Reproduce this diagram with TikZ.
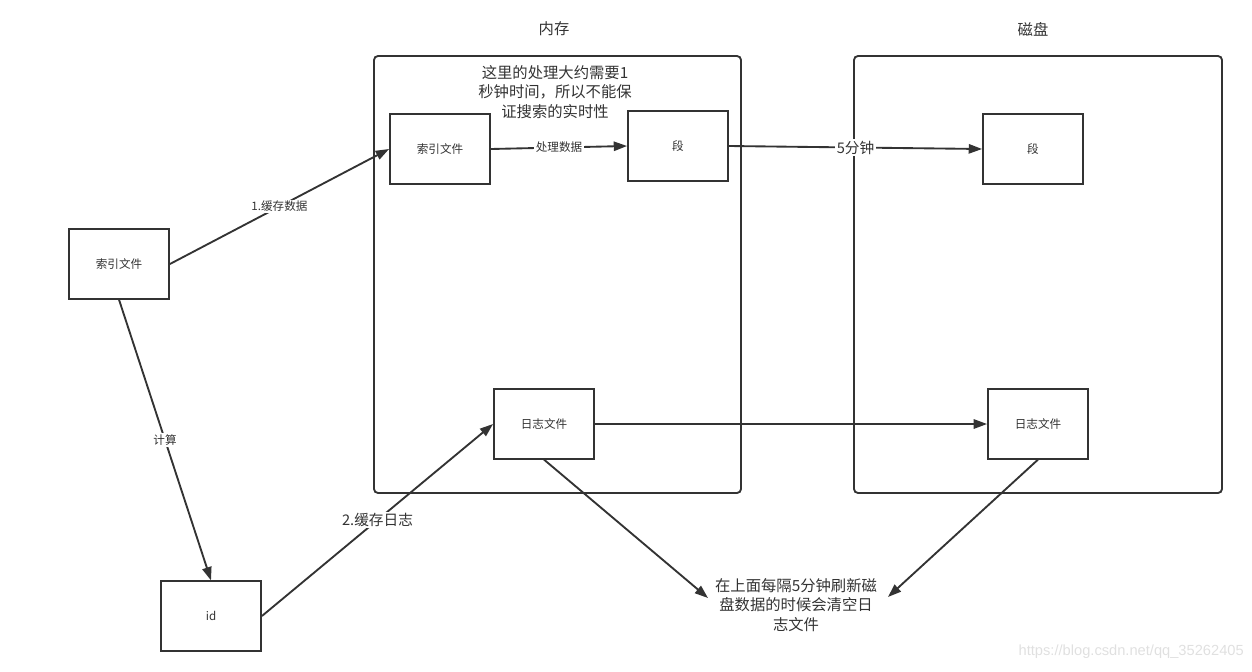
\documentclass[tikz,border=0pt]{standalone}
\usepackage{fontspec}
\setmainfont{Noto Sans CJK SC}
\setsansfont{Liberation Sans}
\usetikzlibrary{arrows.meta}
\definecolor{ink}{HTML}{333333}
\begin{document}
\begin{tikzpicture}[x=0.75pt,y=-0.75pt,
  box/.style={draw=ink,line width=1.4pt,fill=white,minimum width=75pt,minimum height=52pt,inner sep=0pt,font=\fontsize{8.7}{10}\selectfont,text=ink},
  frame/.style={draw=ink,line width=1.4pt,rounded corners=3pt},
  conn/.style={draw=ink,line width=1.4pt,-{Triangle[length=10pt,width=7pt]}},
  lbl/.style={fill=white,inner sep=1pt,text=ink,font=\fontsize{8.7}{10}\selectfont},
  biglbl/.style={fill=white,inner sep=1pt,text=ink,font=\fontsize{11}{13}\selectfont},
  note/.style={text=ink,align=center,font=\fontsize{11.5}{14.8}\selectfont,inner sep=0pt}]
\useasboundingbox (0,0) rectangle (1252,671);
% frames
\draw[frame] (374,56) rectangle (741,493);
\draw[frame] (854,56) rectangle (1222,493);
\node[note] (tmem) at (554,29) {内存};
\node[note] (tdisk) at (1033,29) {磁盘};
% nodes
\node[box] (src) at (119,264) {索引文件};
\node[box] (id) at (211,616) {id};
\node[box] (midx) at (440,149) {索引文件};
\node[box] (mseg) at (678,146) {段};
\node[box] (mlog) at (544,424) {日志文件};
\node[box] (dseg) at (1033,149) {段};
\node[box] (dlog) at (1038,424) {日志文件};
\node[note] (n1) at (555,92) {这里的处理大约需要1\\秒钟时间，所以不能保\\证搜索的实时性};
\node[note] (n2) at (796,605) {在上面每隔5分钟刷新磁\\盘数据的时候会清空日\\志文件};
% connectors
\draw[conn] (src.east) -- node[lbl,pos=0.5]{1.缓存数据} (midx.west);
\draw[conn] (src.south) -- node[lbl,pos=0.5]{计算} (id.north);
\draw[conn] (id.east) -- node[biglbl,pos=0.5]{2.缓存日志} (mlog.west);
\draw[conn] (midx.east) -- node[lbl,pos=0.5]{处理数据} (mseg.west);
\draw[conn] (mseg.east) -- node[biglbl,pos=0.5]{5分钟} (dseg.west);
\draw[conn] (mlog.east) -- (dlog.west);
\coordinate (n2a) at (708,598);
\coordinate (n2b) at (888,597);
\draw[conn] (mlog.south) -- (n2a);
\draw[conn] (dlog.south) -- (n2b);
% watermark
\node[text=black!12,font=\fontsize{11}{13}\selectfont\sffamily,anchor=east,inner sep=0pt] (wm) at (1244,652) {https://blog.csdn.net/qq\_35262405};
\end{tikzpicture}
\end{document}
